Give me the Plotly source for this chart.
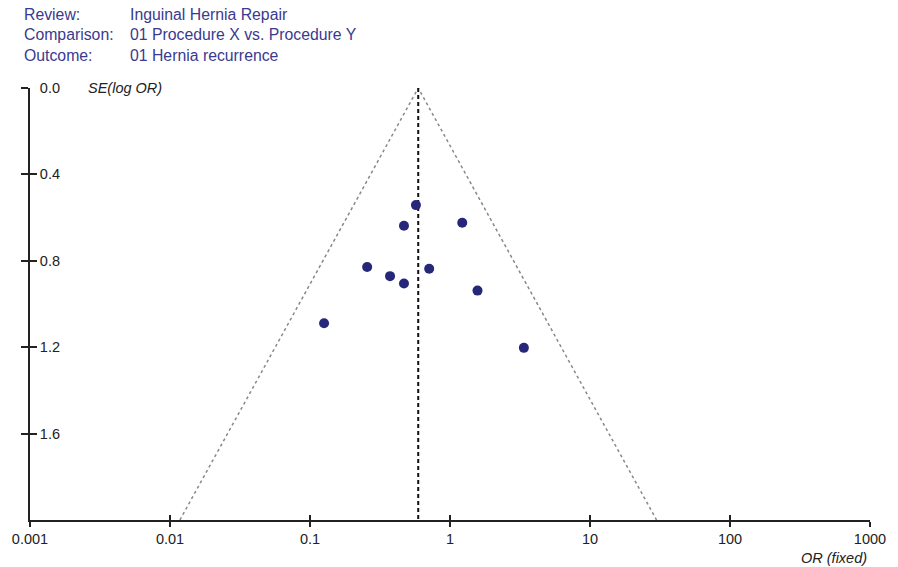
import numpy as np
import plotly.graph_objects as go

# Study estimates: odds ratio and standard error of log OR
odds_ratio = [0.571, 0.469, 1.223, 0.256, 0.373, 0.469, 0.710, 1.572, 0.126, 3.37]
se_log_or = [0.542, 0.638, 0.624, 0.829, 0.871, 0.905, 0.837, 0.938, 1.089, 1.203]

pooled_or = 0.593      # fixed-effect summary estimate
se_max = 2.0           # bottom of the funnel
z = 1.96

x_ticks = [0.001, 0.01, 0.1, 1, 10, 100, 1000]
x_tick_text = ["0.001", "0.01", "0.1", "1", "10", "100", "1000"]
y_ticks = [0.0, 0.4, 0.8, 1.2, 1.6]

header_keys = ["Review:", "Comparison:", "Outcome:"]
header_vals = ["Inguinal Hernia Repair", "01 Procedure X vs. Procedure Y", "01 Hernia recurrence"]

ink = "#222222"
navy = "#27277a"
header_col = "#3a3a8f"
font_family = "Liberation Sans, Arial, Helvetica, sans-serif"

fig = go.Figure()

# 95% pseudo-confidence limits of the funnel
lo = pooled_or * np.exp(-z * se_max)
hi = pooled_or * np.exp(z * se_max)
fig.add_trace(go.Scatter(
    x=[lo, pooled_or, hi], y=[se_max, 0, se_max], mode="lines",
    line=dict(color="#888888", width=1.5, dash="dot"),
    hoverinfo="skip", showlegend=False))

# summary estimate
fig.add_trace(go.Scatter(
    x=[pooled_or, pooled_or], y=[0, se_max], mode="lines",
    line=dict(color="#111111", width=2, dash="4px,3px"),
    hoverinfo="skip", showlegend=False))

# individual studies
fig.add_trace(go.Scatter(
    x=odds_ratio, y=se_log_or, mode="markers",
    marker=dict(color=navy, size=10, line=dict(width=0)),
    showlegend=False))

# invisible trace so the overlay axes are drawn
fig.add_trace(go.Scatter(x=[1], y=[1], xaxis="x2", yaxis="y2", mode="markers",
                         marker=dict(opacity=0), hoverinfo="skip", showlegend=False))

eps = 1e-4
x_range = [-3 - eps, 3 + eps]
y_range = [se_max, 0 - eps]
tick_style = dict(showgrid=False, zeroline=False, tickcolor=ink, tickwidth=1.5)

fig.update_layout(
    width=898, height=567,
    margin=dict(l=27, r=24, t=88, b=47),
    paper_bgcolor="white", plot_bgcolor="white",
    font=dict(family=font_family, color=ink, size=14),
    xaxis=dict(type="log", range=x_range, tickvals=x_ticks, ticktext=x_tick_text,
               ticks="outside", ticklen=5, showline=True, linecolor=ink, linewidth=1.5,
               ticklabeloverflow="allow", tickfont=dict(size=14.5, color=ink),
               **tick_style),
    yaxis=dict(range=y_range, tickvals=y_ticks, tickformat=".1f",
               ticks="outside", ticklen=7, ticklabelposition="inside",
               ticklabelstandoff=10, ticklabeloverflow="allow",
               showline=True, linecolor=ink, linewidth=1.5,
               tickfont=dict(size=14.5, color=ink), **tick_style),
    # overlay axes give the ticks that cross the axis lines
    xaxis2=dict(type="log", range=x_range, tickvals=x_ticks, overlaying="x",
                anchor="y", side="bottom", ticks="inside", ticklen=5,
                showticklabels=False, showline=False, **tick_style),
    yaxis2=dict(range=y_range, tickvals=y_ticks, overlaying="y", anchor="x",
                side="left", ticks="inside", ticklen=7, showticklabels=False,
                showline=False, **tick_style),
)

# header block
for i, (k, v) in enumerate(zip(header_keys, header_vals)):
    yy = 14 + i * 20.5
    fig.add_annotation(xref="paper", yref="paper", x=(19 - 27) / 847, y=1 + (88 - yy) / 432,
                       text=k, showarrow=False, xanchor="left", yanchor="middle",
                       font=dict(size=15.8, color=header_col))
    fig.add_annotation(xref="paper", yref="paper", x=(126 - 27) / 847, y=1 + (88 - yy) / 432,
                       text=v, showarrow=False, xanchor="left", yanchor="middle",
                       font=dict(size=15.8, color=header_col))

fig.add_annotation(xref="paper", yref="paper", x=(83 - 27) / 847, y=1,
                   text="<i>SE(log OR)</i>", showarrow=False, xanchor="left",
                   yanchor="middle", font=dict(size=14.5, color=ink))
fig.add_annotation(xref="paper", yref="paper", x=(873 - 27) / 847, y=-(558 - 520) / 432,
                   text="<i>OR (fixed)</i>", showarrow=False, xanchor="right",
                   yanchor="middle", font=dict(size=14.5, color=ink))

fig.write_html("out.html")
